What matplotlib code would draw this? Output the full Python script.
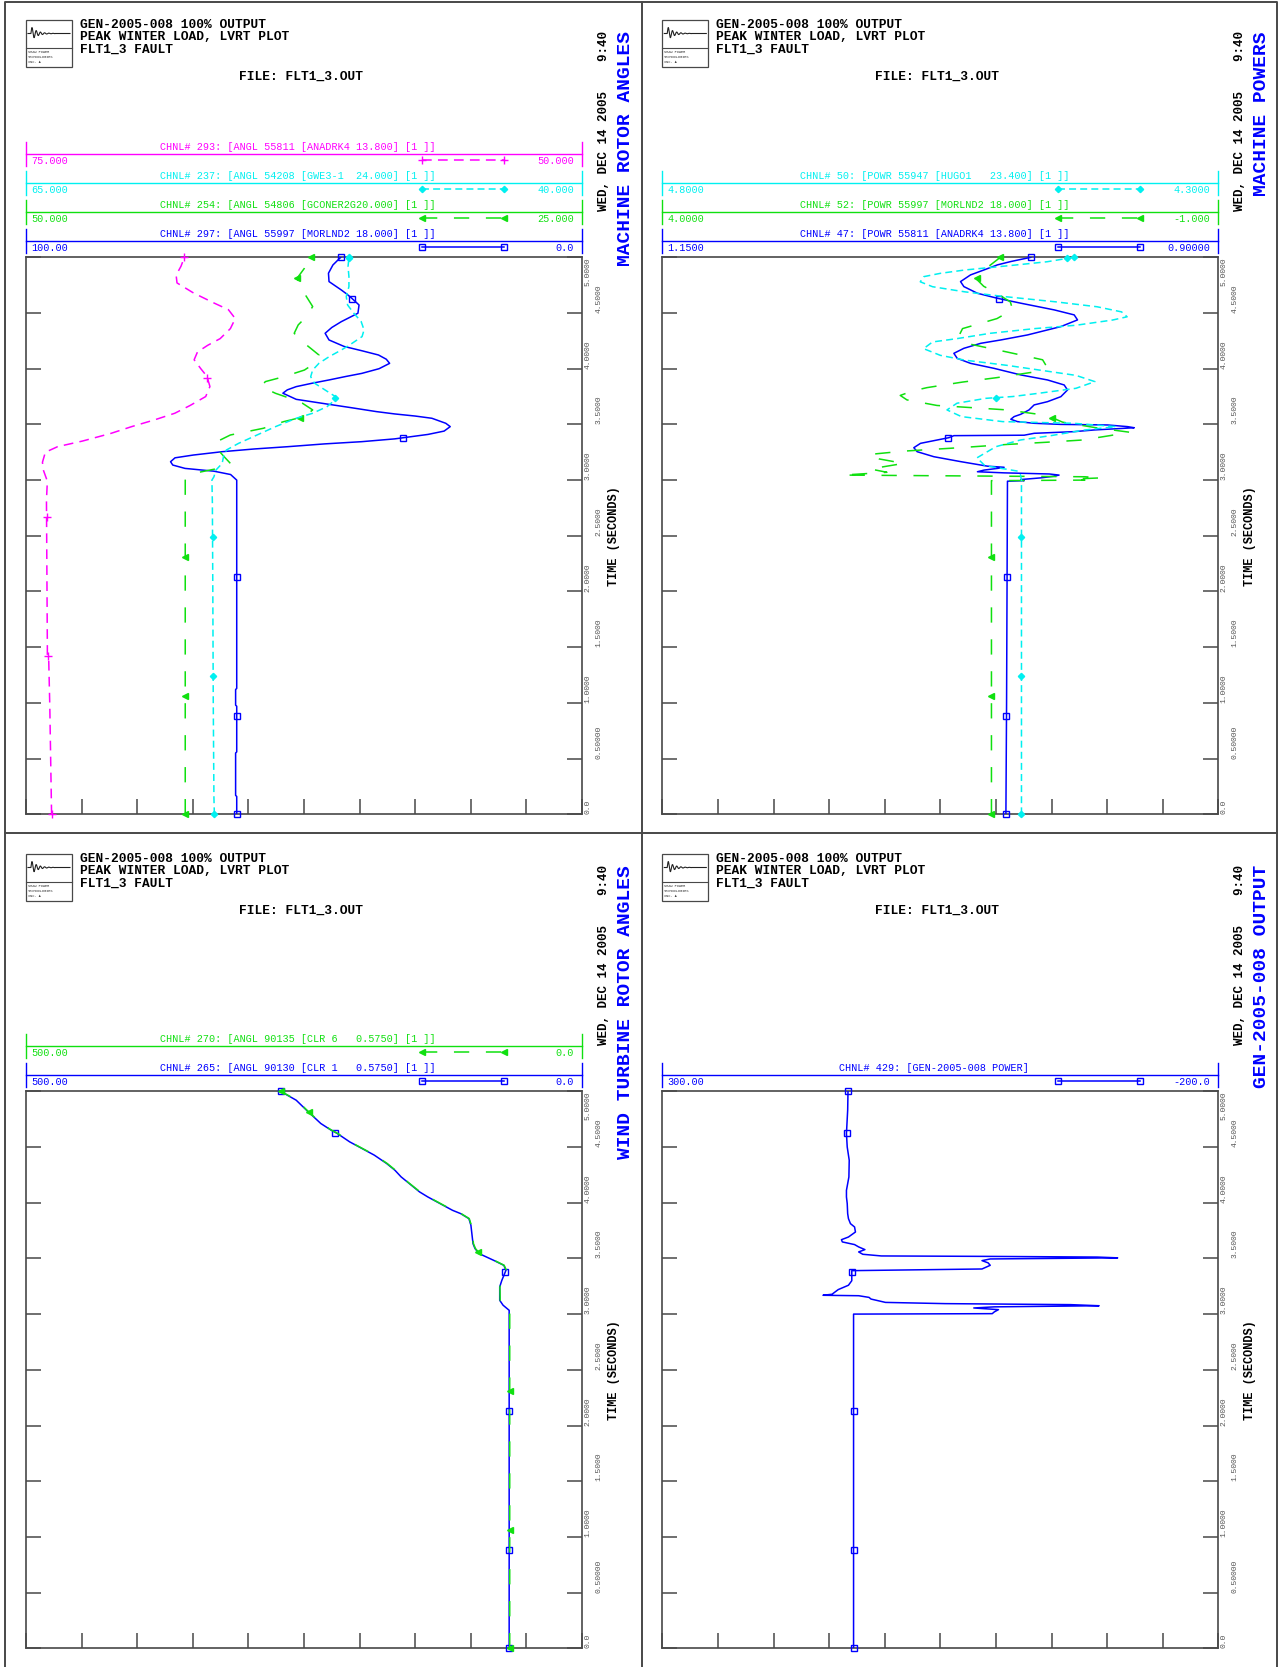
import numpy as np
import matplotlib
matplotlib.use("Agg")
import matplotlib.pyplot as plt
from matplotlib.lines import Line2D
from matplotlib.patches import Rectangle
import matplotlib.transforms as mtransforms

plt.rcParams['font.family'] = ['Liberation Mono', 'DejaVu Sans Mono']
plt.rcParams['lines.scale_dashes'] = False

# ---------------- data (time in seconds, values in channel units) ----------------
# MACHINE ROTOR ANGLES
t_ang_mag = [0.0, 0.97, 1.40, 1.43, 1.50, 2.82, 2.99, 3.09, 3.16, 3.25, 3.30, 3.35, 3.42, 3.48,
             3.54, 3.60, 3.67, 3.75, 3.84, 3.93, 4.00, 4.08, 4.15, 4.21, 4.27, 4.36, 4.45, 4.53,
             4.59, 4.68, 4.77, 4.84, 4.92, 5.0]
ang_anadrk4 = [73.85, 73.93, 73.98, 74.04, 74.04, 74.08, 74.04, 74.22, 74.26, 74.13, 73.58, 72.47,
               71.17, 70.25, 69.23, 68.31, 67.62, 66.92, 66.73, 66.86, 67.14, 67.44, 67.29, 66.83,
               66.27, 65.81, 65.59, 65.90, 66.55, 67.47, 68.21, 68.25, 68.03, 67.88]

t_ang_cyan = [0.0, 0.15, 1.0, 2.0, 2.8, 3.0, 3.03, 3.09, 3.15, 3.21, 3.27, 3.33, 3.405, 3.48, 3.555,
              3.60, 3.66, 3.705, 3.75, 3.81, 3.869, 3.928, 3.988, 4.048, 4.108, 4.168, 4.213, 4.288,
              4.348, 4.423, 4.498, 4.572, 4.647, 4.737, 4.827, 4.916, 5.0]
ang_gwe3 = [56.53, 56.55, 56.58, 56.60, 56.62, 56.64, 56.55, 56.46, 56.18, 56.12, 55.99, 55.44, 54.61,
            53.78, 52.85, 52.11, 51.46, 51.19, 51.09, 51.56, 52.02, 52.20, 52.11, 51.83, 51.37, 50.82,
            50.45, 49.89, 49.80, 49.93, 50.26, 50.54, 50.60, 50.48, 50.48, 50.52, 50.48]

t_ang_green = [0.0, 3.0, 3.06, 3.105, 3.15, 3.21, 3.27, 3.336, 3.405, 3.465, 3.525, 3.57, 3.63, 3.69,
               3.734, 3.779, 3.839, 3.884, 3.928, 3.988, 4.048, 4.123, 4.183, 4.258, 4.318, 4.393,
               4.468, 4.558, 4.647, 4.737, 4.812, 4.902, 5.0]
ang_gconer = [42.84, 42.84, 42.47, 41.36, 40.81, 41.09, 41.36, 41.51, 40.81, 39.33, 38.41, 37.48,
              37.11, 37.57, 38.13, 38.78, 39.42, 39.24, 38.41, 37.48, 37.02, 36.83, 37.20, 37.67,
              37.94, 37.76, 37.39, 37.11, 37.39, 37.67, 37.81, 37.48, 37.20]

t_ang_blue = [0.0, 0.16, 0.17, 0.55, 0.56, 0.97, 0.98, 1.12, 1.13, 3.0, 3.05, 3.08, 3.105, 3.135,
              3.165, 3.20, 3.225, 3.255, 3.28, 3.30, 3.325, 3.345, 3.37, 3.39, 3.41, 3.44, 3.48,
              3.51, 3.555, 3.575, 3.594, 3.615, 3.65, 3.68, 3.725, 3.78, 3.81, 3.839, 3.87, 3.899,
              3.93, 3.958, 4.00, 4.048, 4.085, 4.123, 4.16, 4.20, 4.258, 4.318, 4.37, 4.422, 4.498,
              4.572, 4.632, 4.67, 4.707, 4.782, 4.857, 4.931, 5.0]
ang_morlnd2 = [62.1, 62.1, 62.3, 62.3, 62.1, 62.1, 62.3, 62.3, 62.1, 62.1,
               63.2, 66.2, 71.4, 73.6, 74.0, 73.2, 69.9, 64.7, 58.8, 52.9,
               46.3, 39.6, 33.7, 30.7, 27.7, 24.8, 23.7, 24.5, 27.0, 30.0,
               33.7, 37.0, 41.5, 45.5, 51.4, 53.8, 53.0, 51.4, 48.5, 45.5,
               42.5, 39.6, 36.5, 34.6, 35.2, 36.6, 39.5, 42.8, 45.5, 46.2,
               45.0, 43.3, 40.3, 40.1, 41.4, 42.3, 43.3, 45.5, 45.6, 44.8, 43.4]

# MACHINE POWERS
t_pow_cyan = [0.0, 3.0, 3.05, 3.08, 3.13, 3.20, 3.30, 3.36, 3.40, 3.45, 3.48, 3.51, 3.525, 3.57,
              3.63, 3.69, 3.734, 3.75, 3.78, 3.824, 3.884, 3.94, 3.988, 4.03, 4.077, 4.12, 4.18,
              4.24, 4.27, 4.318, 4.36, 4.39, 4.437, 4.466, 4.51, 4.556, 4.60, 4.646, 4.69, 4.736,
              4.78, 4.826, 4.856, 4.886, 4.93, 4.96, 5.0]
pow_hugo1 = [4.477, 4.477, 4.478, 4.480, 4.510, 4.517, 4.500, 4.478, 4.450, 4.420, 4.392, 4.430,
             4.494, 4.531, 4.544, 4.535, 4.509, 4.485, 4.461, 4.428, 4.411, 4.428, 4.461, 4.490,
             4.528, 4.550, 4.565, 4.557, 4.535, 4.505, 4.465, 4.428, 4.395, 4.382, 4.387, 4.409,
             4.446, 4.491, 4.528, 4.557, 4.568, 4.565, 4.550, 4.528, 4.483, 4.454, 4.430]

t_pow_green = [0.0, 2.995, 3.0, 3.01, 3.02, 3.03, 3.045, 3.07, 3.10, 3.15, 3.19, 3.23, 3.26, 3.29,
               3.32, 3.34, 3.36, 3.40, 3.43, 3.47, 3.52, 3.58, 3.63, 3.65, 3.67, 3.72, 3.76, 3.80,
               3.83, 3.88, 3.92, 3.97, 4.03, 4.08, 4.15, 4.22, 4.30, 4.36, 4.45, 4.53, 4.60, 4.68,
               4.74, 4.80, 4.86, 4.93, 5.0]
pow_morlnd2 = [1.04, 1.04, 0.20, 0.30, 0.05, 0.20, 2.38, 1.98, 2.13, 1.83, 2.05, 2.14, 1.83, 1.34,
               0.90, 0.54, 0.22, -0.03, -0.20, 0.10, 0.40, 0.54, 0.90, 1.21, 1.53, 1.80, 1.86, 1.75,
               1.62, 1.30, 0.99, 0.66, 0.55, 0.58, 0.90, 1.23, 1.33, 1.30, 0.99, 0.85, 0.87, 1.00,
               1.11, 1.17, 1.15, 1.05, 0.96]

t_pow_blue = [0.0, 1.0, 2.0, 2.99, 2.995, 3.005, 3.02, 3.035, 3.045, 3.055, 3.065, 3.075, 3.09,
              3.105, 3.115, 3.125, 3.166, 3.210, 3.255, 3.291, 3.330, 3.360, 3.381, 3.399, 3.403,
              3.420, 3.435, 3.450, 3.470, 3.480, 3.495, 3.500, 3.510, 3.525, 3.546, 3.570, 3.591,
              3.630, 3.675, 3.704, 3.749, 3.809, 3.854, 3.899, 3.944, 4.003, 4.048, 4.093, 4.138,
              4.183, 4.228, 4.258, 4.303, 4.378, 4.438, 4.483, 4.528, 4.588, 4.632, 4.677, 4.737,
              4.782, 4.842, 4.887, 4.932, 4.962, 5.0]
pow_anadrk4 = [0.9955, 0.9952, 0.9950, 0.9948, 0.9873, 0.9888, 0.9798, 0.9738, 0.9716, 0.9760,
               0.9963, 1.0083, 1.0053, 0.9993, 0.9963, 1.0038, 1.0159, 1.0279, 1.0354, 1.0369,
               1.0339, 1.0264, 1.0211, 1.0189, 0.9873, 0.9828, 0.9648, 0.9558, 0.9378, 0.9408,
               0.9498, 0.9708, 0.9828, 0.9903, 0.9933, 0.9918, 0.9888, 0.9851, 0.9828, 0.9768,
               0.9708, 0.9678, 0.9693, 0.9768, 0.9888, 1.0008, 1.0114, 1.0174, 1.0189, 1.0144,
               1.0068, 0.9978, 0.9858, 0.9708, 0.9633, 0.9648, 0.9738, 0.9888, 0.9993, 1.0083,
               1.0144, 1.0159, 1.0114, 1.0053, 0.9993, 0.9933, 0.9843]

# WIND TURBINE ROTOR ANGLES
t_wt = [0.0, 3.0, 3.034, 3.08, 3.124, 3.244, 3.30, 3.393, 3.438, 3.483, 3.543, 3.588, 3.632, 3.797,
        3.857, 3.902, 3.932, 3.992, 4.052, 4.097, 4.172, 4.232, 4.292, 4.352, 4.427, 4.487, 4.546,
        4.621, 4.651, 4.711, 4.831, 4.92, 5.0]
ang_clr6 = [65.0, 65.0, 65.0, 70.5, 73.6, 73.8, 72.0, 68.0, 70.0, 79.0, 92.0, 95.8, 97.6, 99.5,
            101.4, 108.7, 116.0, 127.2, 138.2, 145.6, 155.0, 162.3, 167.8, 175.2, 186.3, 197.5,
            208.5, 219.6, 225.2, 234.5, 247.4, 256.6, 270.7]
ang_clr1 = [65.5, 65.5, 65.5, 71.0, 74.0, 74.0, 72.2, 68.4, 70.3, 79.5, 92.5, 96.2, 98.0, 99.9,
            101.7, 109.1, 116.5, 127.6, 138.7, 146.1, 155.3, 162.7, 168.3, 175.7, 186.8, 197.9,
            208.9, 220.0, 225.6, 234.9, 247.8, 257.0, 271.1]

# GEN-2005-008 OUTPUT
t_gen = [0.0, 3.0, 3.004, 3.020, 3.040, 3.055, 3.065, 3.075, 3.085, 3.094, 3.105, 3.135, 3.150,
         3.165, 3.169, 3.178, 3.220, 3.259, 3.300, 3.390, 3.405, 3.438, 3.460, 3.480, 3.495, 3.505,
         3.512, 3.518, 3.522, 3.537, 3.558, 3.579, 3.603, 3.624, 3.648, 3.668, 3.692, 3.737, 3.782,
         3.812, 3.857, 3.902, 3.992, 4.052, 4.111, 4.171, 4.231, 4.381, 4.500, 4.620, 4.830, 5.0]
gen_power = [128.0, 128.0, 3.3, 1.4, -2.3, 19.9, 1.4, -92.8, -67.0, 45.8, 99.3, 112.3, 114.1,
             123.4, 155.5, 147.4, 141.8, 132.6, 129.6, 129.6, 12.5, 5.1, 7.0, 12.5, 5.1, -109.5,
             -91.0, 5.1, 103.0, 119.7, 123.4, 117.8, 123.4, 127.1, 138.1, 138.9, 132.6, 126.3,
             127.1, 130.8, 132.6, 133.3, 133.7, 134.4, 134.4, 133.3, 132.2, 131.9, 133.7, 134.4,
             133.3, 133.0]

time_ticks = [0.0, 0.5, 1.0, 1.5, 2.0, 2.5, 3.0, 3.5, 4.0, 4.5, 5.0]
time_labels = ["0.0", "0.50000", "1.0000", "1.5000", "2.0000", "2.5000",
               "3.0000", "3.5000", "4.0000", "4.5000", "5.0000"]

header = ["GEN-2005-008 100% OUTPUT", "PEAK WINTER LOAD, LVRT PLOT", "FLT1_3 FAULT"]
file_line = "FILE: FLT1_3.OUT"
date_line = "WED, DEC 14 2005    9:40"

# ---------------- styles ----------------
STYLE = {
    'blue':    dict(color='#0000ff', dashes=None, marker='s', mfc='none', ms=4.5, t0=0.88),
    'cyan':    dict(color='#00f0f0', dashes=(5, 3), marker='D', mfc='#00f0f0', ms=3.2, t0=1.24),
    'green':   dict(color='#10e010', dashes=(11, 12), marker='<', mfc='#10e010', ms=4.0, t0=1.06),
    'magenta': dict(color='#ff00ff', dashes=(7, 4.5), marker='+', mfc='#ff00ff', ms=6, t0=1.42),
}

W, H = 1288, 1667
fig = plt.figure(figsize=(W / 100, H / 100), dpi=100)


def fx(x):
    return x / W


def fy(y):
    return 1 - y / H


def seg(xs, ys, **kw):
    fig.add_artist(Line2D([fx(x) for x in xs], [fy(y) for y in ys],
                          transform=fig.transFigure, **kw))


def txt(x, y, s, **kw):
    fig.text(fx(x), fy(y), s, **kw)


FRAME = '#484848'
AX_L, AX_R, AX_T, AX_B = 26, 582, 257.3, 814.3


def draw_panel(dx, dy, title, chans):
    # logo
    fig.add_artist(Rectangle((fx(26 + dx), fy(67 + dy)), 46 / W, 47 / H, fill=False,
                             ec=FRAME, lw=0.9, transform=fig.transFigure))
    seg([26 + dx, 72 + dx], [48 + dy, 48 + dy], color=FRAME, lw=0.8)
    xs = np.linspace(28, 70, 160)
    ys = 33.5 - np.where((xs > 31) & (xs < 55),
                         7 * np.exp(-(xs - 31) / 6) * np.sin(2 * np.pi * (xs - 31) / 4.2), 0)
    seg(xs + dx, ys + dy, color='#222222', lw=0.8)
    for k, s in enumerate(["SHAW POWER", "TECHNOLOGIES", "INC. \u25b2"]):
        txt(28 + dx, 52 + 5 * k + dy, s, fontsize=2.6, va='center', color='#333333')

    for k, s in enumerate(header):
        txt(80 + dx, 25 + 12.3 * k + dy, s, fontsize=9.3, weight='bold', va='center')
    txt(301 + dx, 77 + dy, file_line, fontsize=9.3, weight='bold', ha='center', va='center')
    txt(604 + dx, 31 + dy, date_line, fontsize=9.0, weight='bold', rotation=90,
        ha='center', va='top')
    txt(625 + dx, 31 + dy, title, fontsize=14, weight='bold', color='#0000ff', rotation=90,
        ha='center', va='top')

    # legend rows
    n = len(chans)
    for j, ch in enumerate(chans):
        st = STYLE[ch['key']]
        c = st['color']
        y = 240.7 - 29 * (n - 1 - j) + dy
        seg([AX_L + dx, AX_R + dx], [y, y], color=c, lw=1.0)
        seg([AX_L + dx, AX_L + dx], [y - 12, y + 12], color=c, lw=1.0)
        seg([AX_R + dx, AX_R + dx], [y - 12, y + 12], color=c, lw=1.0)
        txt(298 + dx, y - 6.3, ch['label'], fontsize=7.3, color=c, ha='center', va='center')
        txt(31 + dx, y + 7.6, ch['lo_txt'], fontsize=7.3, color=c, ha='left', va='center')
        txt(574 + dx, y + 7.6, ch['hi_txt'], fontsize=7.3, color=c, ha='right', va='center')
        kw = dict(color=c, lw=1.1, marker=st['marker'], ms=st['ms'], mfc=st['mfc'], mec=c)
        if st['dashes']:
            kw['dashes'] = st['dashes']
        seg([422 + dx, 504 + dx], [y + 6.3, y + 6.3], **kw)

    # frame axes
    ax = fig.add_axes([fx(AX_L + dx), fy(AX_B + dy), (AX_R - AX_L) / W, (AX_B - AX_T) / H])
    ax.set_xlim(0, 10)
    ax.set_ylim(0, 5)
    ax.set_xticks(range(11))
    ax.set_yticks(time_ticks)
    ax.tick_params(direction='in', length=10.8, width=1.1, color=FRAME, top=True, right=True,
                   labelbottom=False, labelleft=False)
    for s in ax.spines.values():
        s.set_linewidth(1.2)
        s.set_color(FRAME)

    tr = mtransforms.blended_transform_factory(ax.transAxes, ax.transData)
    for k, (tv, lab) in enumerate(zip(time_ticks, time_labels)):
        xo = 1 + (6 if k % 2 == 0 else 17) / 556
        ax.text(xo, tv, lab, transform=tr, rotation=90, ha='center',
                va='top' if tv == 5.0 else 'bottom', fontsize=5.8, color='#555555')
    ax.text(1 + 32 / 556, 0.5, "TIME (SECONDS)", transform=ax.transAxes, rotation=90,
            ha='center', va='center', fontsize=8.6, weight='bold')

    # channels, bottom legend row drawn first
    for ch in reversed(chans):
        st = STYLE[ch['key']]
        cx = ax.twiny()
        cx.set_xlim(ch['lo'], ch['hi'])
        cx.set_ylim(0, 5)
        cx.set_axis_off()
        kw = dict(color=st['color'], lw=1.1)
        if st['dashes']:
            kw['dashes'] = st['dashes']
        cx.plot(ch['v'], ch['t'], **kw)
        mt = [0.0] + list(np.arange(st['t0'], 5.0, 1.25)) + [5.0]
        cx.plot(np.interp(mt, ch['t'], ch['v']), mt, ls='none', marker=st['marker'],
                ms=st['ms'], mfc=st['mfc'], mec=st['color'], mew=1.0, clip_on=False)


DX, DY = 636.3, 834.0

draw_panel(0, 0, "MACHINE ROTOR ANGLES", [
    dict(key='magenta', label="CHNL# 293: [ANGL 55811 [ANADRK4 13.800] [1 ]]",
         lo_txt="75.000", hi_txt="50.000", lo=75, hi=50, t=t_ang_mag, v=ang_anadrk4),
    dict(key='cyan', label="CHNL# 237: [ANGL 54208 [GWE3-1  24.000] [1 ]]",
         lo_txt="65.000", hi_txt="40.000", lo=65, hi=40, t=t_ang_cyan, v=ang_gwe3),
    dict(key='green', label="CHNL# 254: [ANGL 54806 [GCONER2G20.000] [1 ]]",
         lo_txt="50.000", hi_txt="25.000", lo=50, hi=25, t=t_ang_green, v=ang_gconer),
    dict(key='blue', label="CHNL# 297: [ANGL 55997 [MORLND2 18.000] [1 ]]",
         lo_txt="100.00", hi_txt="0.0", lo=100, hi=0, t=t_ang_blue, v=ang_morlnd2),
])

draw_panel(DX, 0, "MACHINE POWERS", [
    dict(key='cyan', label="CHNL# 50: [POWR 55947 [HUGO1   23.400] [1 ]]",
         lo_txt="4.8000", hi_txt="4.3000", lo=4.8, hi=4.3, t=t_pow_cyan, v=pow_hugo1),
    dict(key='green', label="CHNL# 52: [POWR 55997 [MORLND2 18.000] [1 ]]",
         lo_txt="4.0000", hi_txt="-1.000", lo=4.0, hi=-1.0, t=t_pow_green, v=pow_morlnd2),
    dict(key='blue', label="CHNL# 47: [POWR 55811 [ANADRK4 13.800] [1 ]]",
         lo_txt="1.1500", hi_txt="0.90000", lo=1.15, hi=0.90, t=t_pow_blue, v=pow_anadrk4),
])

draw_panel(0, DY, "WIND TURBINE ROTOR ANGLES", [
    dict(key='green', label="CHNL# 270: [ANGL 90135 [CLR 6   0.5750] [1 ]]",
         lo_txt="500.00", hi_txt="0.0", lo=500, hi=0, t=t_wt, v=ang_clr6),
    dict(key='blue', label="CHNL# 265: [ANGL 90130 [CLR 1   0.5750] [1 ]]",
         lo_txt="500.00", hi_txt="0.0", lo=500, hi=0, t=t_wt, v=ang_clr1),
])

draw_panel(DX, DY, "GEN-2005-008 OUTPUT", [
    dict(key='blue', label="CHNL# 429: [GEN-2005-008 POWER]",
         lo_txt="300.00", hi_txt="-200.0", lo=300, hi=-200, t=t_gen, v=gen_power),
])

# page frame (open at the bottom edge) and dividers
seg([5, 5, 1277, 1277], [1667, 2, 2, 1667], color=FRAME, lw=1.4)
seg([642, 642], [2, 1667], color=FRAME, lw=1.4)
seg([5, 1277], [833, 833], color=FRAME, lw=1.4)

fig.savefig("out.png", dpi=100)
